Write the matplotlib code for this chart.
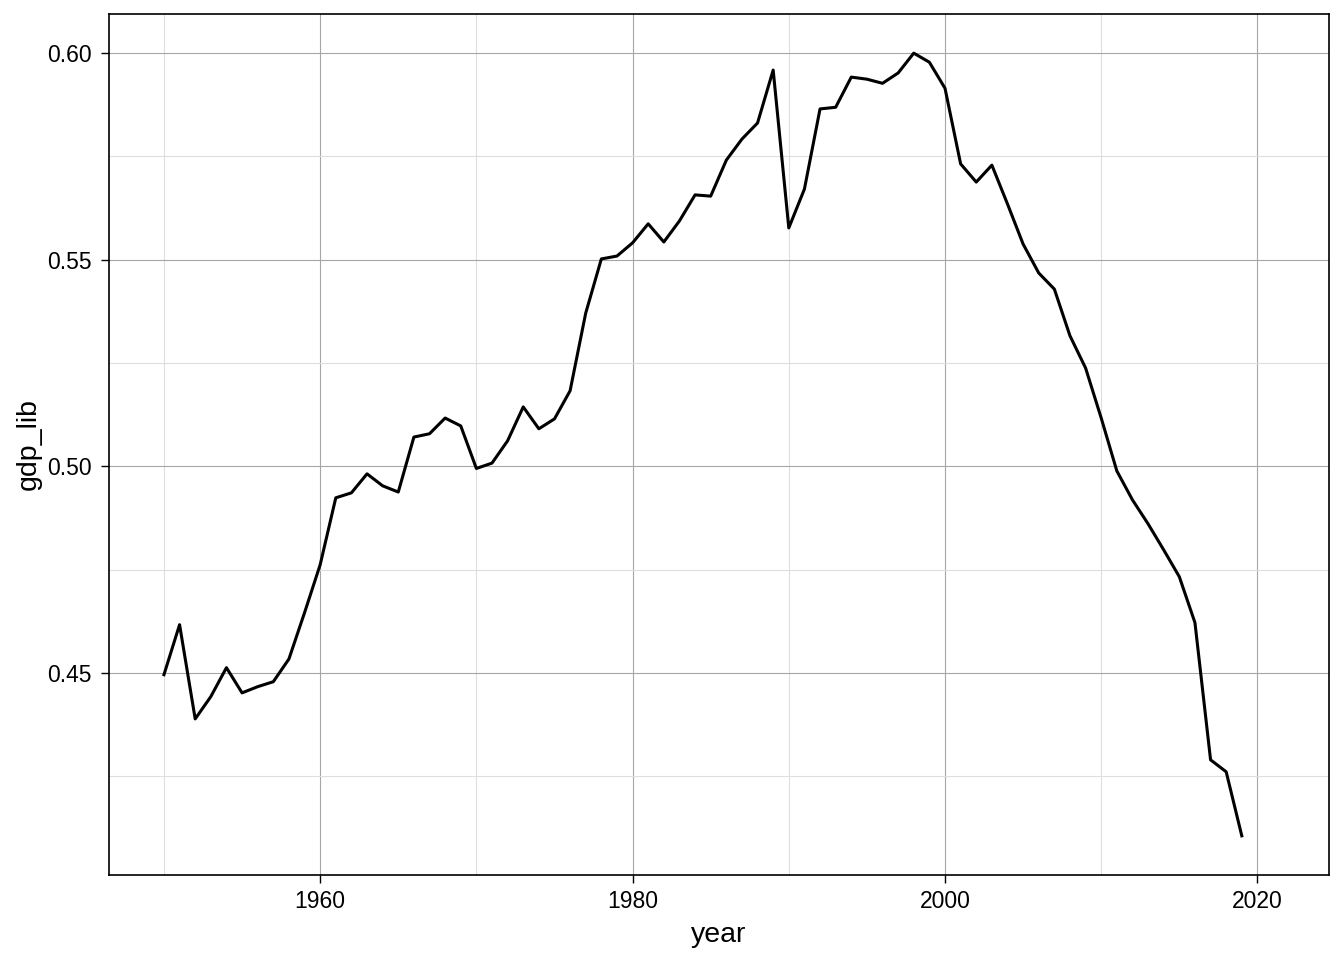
import matplotlib
matplotlib.use('agg')
import matplotlib.pyplot as plt

# gdp_lib by year
years = list(range(1950, 2020))
gdp_lib = [
    0.4496, 0.4617, 0.4389, 0.4443, 0.4513, 0.4452, 0.4467, 0.4479, 0.4534, 0.4646,
    0.4762, 0.4924, 0.4936, 0.4982, 0.4953, 0.4938, 0.5071, 0.5079, 0.5117, 0.5098,
    0.4995, 0.5008, 0.5062, 0.5144, 0.5091, 0.5115, 0.5183, 0.5371, 0.5502, 0.5509,
    0.5541, 0.5587, 0.5543, 0.5594, 0.5657, 0.5654, 0.5741, 0.5792, 0.5831, 0.5959,
    0.5577, 0.5671, 0.5865, 0.5869, 0.5942, 0.5937, 0.5927, 0.5952, 0.6000, 0.5978,
    0.5915, 0.5732, 0.5688, 0.5729, 0.5635, 0.5538, 0.5468, 0.5429, 0.5316, 0.5238,
    0.5117, 0.4989, 0.4919, 0.4861, 0.4798, 0.4733, 0.4622, 0.4290, 0.4261, 0.4106,
]
year_span = (1950, 2021)  # x scale covers 1950-2021 (last years have no value)
x_ticks = [1960, 1980, 2000, 2020]
y_ticks = [0.45, 0.50, 0.55, 0.60]

plt.rcParams['font.family'] = ['Liberation Sans', 'DejaVu Sans']

fig = plt.figure(figsize=(13.44, 9.6), dpi=100)
ax = fig.add_axes([108.5 / 1344, 1 - 875 / 960, (1328.5 - 108.5) / 1344, (875 - 14) / 960])

ax.plot(years, gdp_lib, color='black', lw=2.2, zorder=3)

pad_x = (year_span[1] - year_span[0]) * 0.05
pad_y = (max(gdp_lib) - min(gdp_lib)) * 0.05
ax.set_xlim(year_span[0] - pad_x, year_span[1] + pad_x)
ax.set_ylim(min(gdp_lib) - pad_y, max(gdp_lib) + pad_y)

ax.set_xticks(x_ticks)
ax.set_yticks(y_ticks)
ax.set_yticklabels(['%.2f' % v for v in y_ticks])
ax.set_xticks([1950, 1970, 1990, 2010], minor=True)
ax.set_yticks([0.425, 0.475, 0.525, 0.575], minor=True)

ax.grid(which='major', color='#a6a6a6', lw=0.8)
ax.grid(which='minor', color='#dedede', lw=0.8)
ax.set_axisbelow(True)

for s in ax.spines.values():
    s.set_color('black')
    s.set_linewidth(1.2)

ax.tick_params(which='major', length=6, width=1.0, color='black',
               labelsize=16.5, labelcolor='black', pad=5)
ax.tick_params(axis='y', which='major', pad=6)
ax.tick_params(which='minor', length=0)

ax.set_xlabel('year', fontsize=20.5, labelpad=6)
ax.set_ylabel('gdp_lib', fontsize=20.5, labelpad=4)

fig.savefig('out.png', dpi=100)
